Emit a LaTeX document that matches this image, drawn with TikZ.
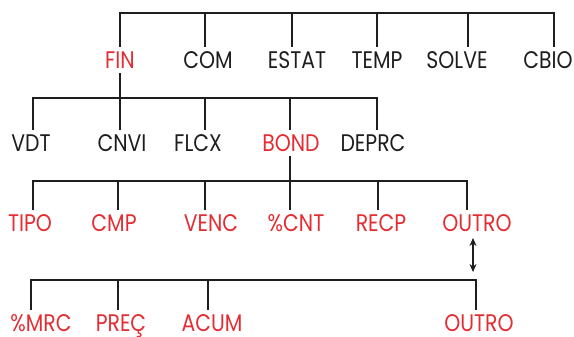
\documentclass[tikz,border=0pt]{standalone}
\usepackage{fontspec}
\setmainfont[FakeStretch=0.85]{Poppins}
\usetikzlibrary{arrows.meta}
\definecolor{mnred}{RGB}{228,45,50}
\definecolor{mnblack}{RGB}{30,30,30}

\begin{document}
\begin{tikzpicture}[
  x=1pt, y=-1pt,
  font=\fontsize{24}{26}\selectfont,
  key/.style={inner sep=0pt, outer ysep=5pt, text height=16.5pt,
    text depth=0pt, text=mnblack},
  menu/.style={key, text=mnred},
  wire/.style={line width=2pt, draw=mnblack},
  swap/.style={{Stealth[length=8pt,width=7pt]}-{Stealth[length=8pt,width=7pt]},
    line width=2pt, draw=mnblack}
]
\useasboundingbox (0,0) rectangle (574,337);

% top level
\node[menu] (fin)   at (120,60) {FIN};
\node[key]  (com)   at (208,60) {COM};
\node[key]  (estat) at (297,60) {ESTAT};
\node[key]  (temp)  at (377,60) {TEMP};
\node[key]  (solve) at (457,60) {SOLVE};
\node[key]  (cbio)  at (548,60) {CBIO};

% FIN menu
\node[key]  (vdt)   at (31,143)  {VDT};
\node[key]  (cnvi)  at (122,143) {CNVI};
\node[key]  (flcx)  at (198,143) {FLCX};
\node[menu] (bond)  at (291,143) {BOND};
\node[key]  (deprc) at (373,143) {DEPRC};

% BOND menu, page 1
\node[menu] (tipo)  at (30,223)  {TIPO};
\node[menu] (cmp)   at (114,223) {CMP};
\node[menu] (venc)  at (211,223) {VENC};
\node[menu] (pcnt)  at (296,223) {\%CNT};
\node[menu] (recp)  at (381,223) {RECP};
\node[menu] (outa)  at (477,223) {OUTRO};

% BOND menu, page 2
\node[menu] (pmrc)  at (41,323)  {\%MRC};
\node[menu] (prec)  at (121,323) {PREÇ};
\node[menu] (acum)  at (212,323) {ACUM};
\node[menu] (outb)  at (479,323) {OUTRO};

% bar positions
\coordinate (ta) at (120,13);  \coordinate (tb) at (205,13);
\coordinate (tc) at (292,13);  \coordinate (td) at (377,13);
\coordinate (te) at (468,13);  \coordinate (tf) at (554,13);
\coordinate (fa) at (33,98);   \coordinate (fb) at (120,98);
\coordinate (fc) at (205,98);  \coordinate (fd) at (290,98);
\coordinate (fe) at (377,98);
\coordinate (ba) at (33,181);  \coordinate (bb) at (118,181);
\coordinate (bc) at (205,181); \coordinate (bd) at (290,181);
\coordinate (be) at (378,181); \coordinate (bf) at (467,181);
\coordinate (pa) at (31,280);  \coordinate (pb) at (118,280);
\coordinate (pc) at (208,280); \coordinate (pd) at (476,280);
\coordinate (sa) at (473,238); \coordinate (sb) at (473,272);

\draw[wire] (ta |- fin.north) -- (ta) -- (tf) -- (tf |- cbio.north);
\draw[wire] (tb) -- (tb |- com.north);
\draw[wire] (tc) -- (tc |- estat.north);
\draw[wire] (td) -- (td |- temp.north);
\draw[wire] (te) -- (te |- solve.north);

\draw[wire] (fin.south) -- (fb);
\draw[wire] (fa |- vdt.north) -- (fa) -- (fe) -- (fe |- deprc.north);
\draw[wire] (fb) -- (fb |- cnvi.north);
\draw[wire] (fc) -- (fc |- flcx.north);
\draw[wire] (fd) -- (fd |- bond.north);

\draw[wire] (bd |- bond.south) -- (bd);
\draw[wire] (ba |- tipo.north) -- (ba) -- (bf) -- (bf |- outa.north);
\draw[wire] (bb) -- (bb |- cmp.north);
\draw[wire] (bc) -- (bc |- venc.north);
\draw[wire] (bd) -- (bd |- pcnt.north);
\draw[wire] (be) -- (be |- recp.north);

\draw[swap] (sa) -- (sb);

\draw[wire] (pa |- pmrc.north) -- (pa) -- (pd) -- (pd |- outb.north);
\draw[wire] (pb) -- (pb |- prec.north);
\draw[wire] (pc) -- (pc |- acum.north);
\end{tikzpicture}
\end{document}
